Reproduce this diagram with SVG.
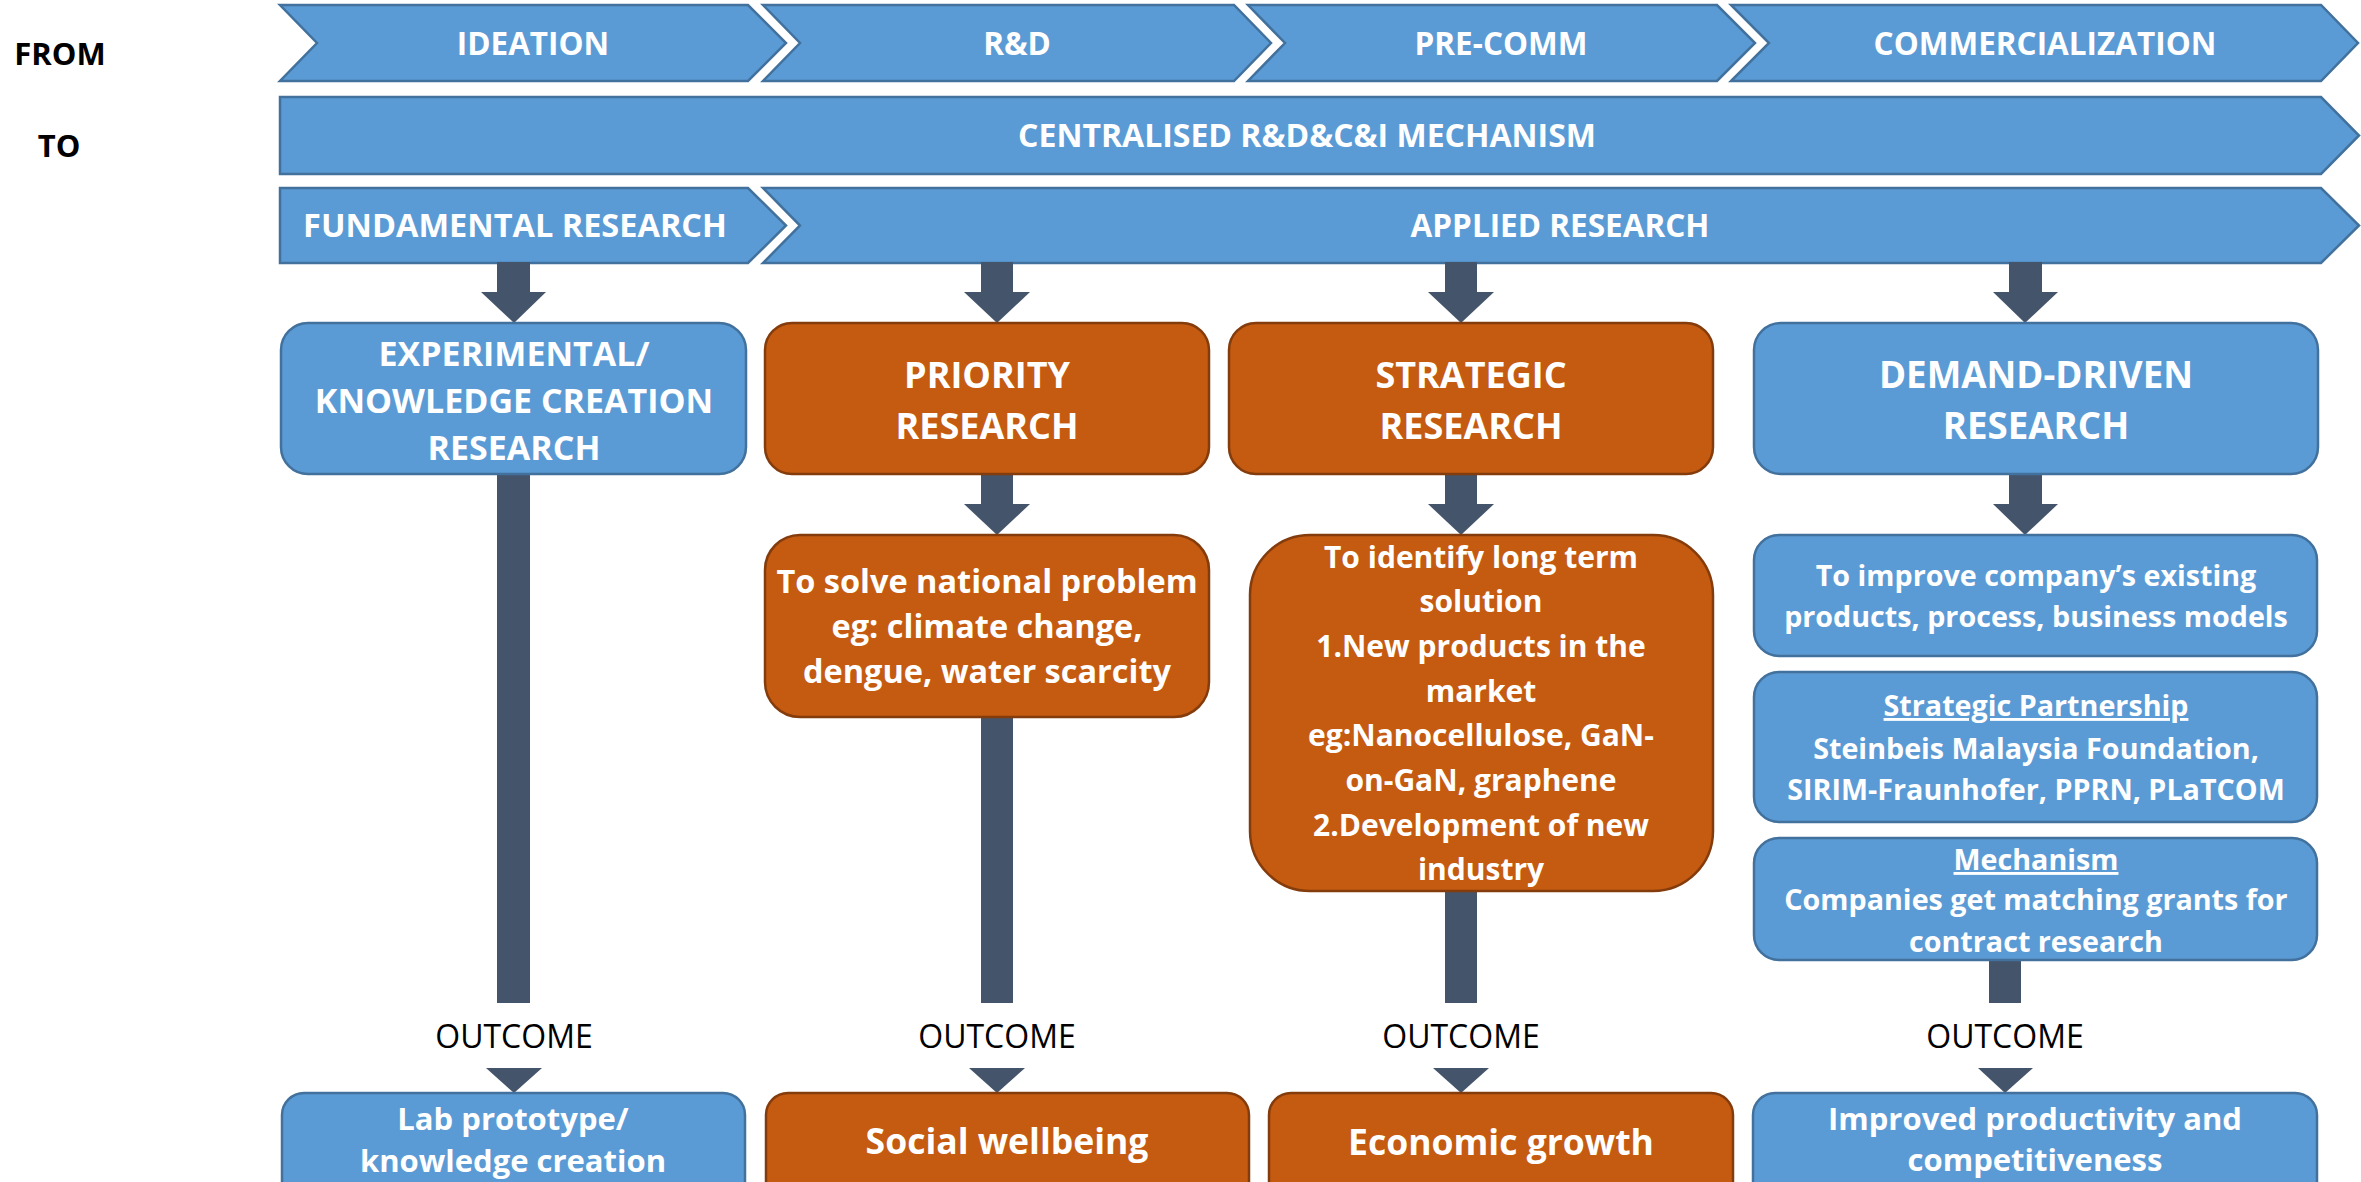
<svg xmlns="http://www.w3.org/2000/svg" width="2361" height="1182" viewBox="0 0 2361 1182">
<style>
text{font-family:"Open Sans","Liberation Sans",sans-serif;text-anchor:middle}
.b{fill:#5B9BD5;stroke:#41719C;stroke-width:2.5}
.o{fill:#C55A11;stroke:#843C0C;stroke-width:2.5}
.w{fill:#FFFFFF;font-weight:bold}
.k{fill:#000000;font-weight:bold;font-size:31px}
.h{font-size:31.5px}
.t36{font-size:36px}
.t34{font-size:34px}
.t32{font-size:32.5px}
.t31{font-size:31px}
.t30{font-size:30px}
.t28{font-size:28.7px}
.t35{font-size:35.5px}
.oc{fill:#000000;font-size:32px}
.ar{fill:#44546A}
.u{text-decoration:underline}
</style>
<rect width="2361" height="1182" fill="#FFFFFF"/>
<g id="labels">
<text class="k" x="60" y="65">FROM</text>
<text class="k" x="59" y="157">TO</text>
</g>
<g id="stage-ideation"><path class="b" d="M280,5 L748,5 L786,43 L748,81 L280,81 L317,43 Z"/><text class="w h" x="533" y="55">IDEATION</text></g>
<g id="stage-rd"><path class="b" d="M763,5 L1234,5 L1271,43 L1234,81 L763,81 L800,43 Z"/><text class="w h" x="1017" y="55">R&amp;D</text></g>
<g id="stage-precomm"><path class="b" d="M1248,5 L1717,5 L1755,43 L1717,81 L1248,81 L1285,43 Z"/><text class="w h" x="1501" y="55">PRE-COMM</text></g>
<g id="stage-comm"><path class="b" d="M1731,5 L2321,5 L2358,43 L2321,81 L1731,81 L1769,43 Z"/><text class="w h" x="2045" y="55">COMMERCIALIZATION</text></g>
<g id="centralised"><path class="b" d="M280,97 L2321,97 L2359,135.5 L2321,174 L280,174 Z"/><text class="w h" x="1307" y="147" style="font-size:32px">CENTRALISED R&amp;D&amp;C&amp;I MECHANISM</text></g>
<g id="fundamental"><path class="b" d="M280,188 L748,188 L786,225.5 L748,263 L280,263 Z"/><text class="w h" x="515" y="237" style="font-size:32.5px">FUNDAMENTAL RESEARCH</text></g>
<g id="applied"><path class="b" d="M763,188 L2321,188 L2359,225.5 L2321,263 L763,263 L800,225.5 Z"/><text class="w h" x="1560" y="237">APPLIED RESEARCH</text></g>

<g id="connectors">
<rect class="ar" x="497" y="262" width="33" height="31"/><polygon class="ar" points="481,292 546,292 514,323"/>
<rect class="ar" x="497" y="474" width="33" height="529"/>
<polygon class="ar" points="486,1068 542,1068 514,1093"/>
<rect class="ar" x="981" y="262" width="32" height="31"/><polygon class="ar" points="964,292 1030,292 997,323"/>
<rect class="ar" x="981" y="474" width="32" height="31"/><polygon class="ar" points="964,504 1030,504 997,535"/>
<rect class="ar" x="981" y="716" width="32" height="287"/>
<polygon class="ar" points="969,1068 1025,1068 997,1093"/>
<rect class="ar" x="1445" y="262" width="32" height="31"/><polygon class="ar" points="1428,292 1494,292 1461,323"/>
<rect class="ar" x="1445" y="474" width="32" height="31"/><polygon class="ar" points="1428,504 1494,504 1461,535"/>
<rect class="ar" x="1445" y="890" width="32" height="113"/>
<polygon class="ar" points="1433,1068 1489,1068 1461,1093"/>
<rect class="ar" x="2009" y="262" width="33" height="31"/><polygon class="ar" points="1993,292 2058,292 2025,323"/>
<rect class="ar" x="2009" y="474" width="33" height="31"/><polygon class="ar" points="1993,504 2058,504 2025,535"/>
<rect class="ar" x="1989" y="959" width="32" height="44"/>
<polygon class="ar" points="1978,1068 2033,1068 2005,1093"/>
</g>

<g id="experimental"><rect class="b" x="281" y="323" width="465" height="151" rx="27"/>
<text class="w t34" x="514" y="366">EXPERIMENTAL/</text>
<text class="w t34" x="514" y="413">KNOWLEDGE CREATION</text>
<text class="w t34" x="514" y="460">RESEARCH</text></g>
<g id="priority"><rect class="o" x="765" y="323" width="444" height="151" rx="27"/>
<text class="w t36" x="987" y="388">PRIORITY</text>
<text class="w t36" x="987" y="439">RESEARCH</text></g>
<g id="strategic"><rect class="o" x="1229" y="323" width="484" height="151" rx="27"/>
<text class="w t36" x="1471" y="388">STRATEGIC</text>
<text class="w t36" x="1471" y="439">RESEARCH</text></g>
<g id="demand"><rect class="b" x="1754" y="323" width="564" height="151" rx="27"/>
<text class="w t36" x="2036" y="388" style="font-size:36.7px">DEMAND-DRIVEN</text>
<text class="w t36" x="2036" y="439" style="font-size:36.7px">RESEARCH</text></g>

<g id="priority-detail"><rect class="o" x="765" y="535" width="444" height="182" rx="35"/>
<text class="w t32" x="987" y="593">To solve national problem</text>
<text class="w t32" x="987" y="638">eg: climate change,</text>
<text class="w t32" x="987" y="683">dengue, water scarcity</text></g>
<g id="strategic-detail"><rect class="o" x="1250" y="535" width="463" height="356" rx="60"/>
<text class="w t30" x="1481" y="568">To identify long term</text>
<text class="w t30" x="1481" y="612">solution</text>
<text class="w t30" x="1481" y="657">1.New products in the</text>
<text class="w t30" x="1481" y="702">market</text>
<text class="w t30" x="1481" y="746">eg:Nanocellulose, GaN-</text>
<text class="w t30" x="1481" y="791">on-GaN, graphene</text>
<text class="w t30" x="1481" y="836">2.Development of new</text>
<text class="w t30" x="1481" y="880">industry</text></g>
<g id="demand-detail"><rect class="b" x="1754" y="535" width="563" height="121" rx="25"/>
<text class="w t28" x="2036" y="586">To improve company’s existing</text>
<text class="w t28" x="2036" y="627">products, process, business models</text></g>
<g id="partnership"><rect class="b" x="1754" y="672" width="563" height="150" rx="25"/>
<text class="w t28 u" x="2036" y="716">Strategic Partnership</text>
<text class="w t28" x="2036" y="759">Steinbeis Malaysia Foundation,</text>
<text class="w t28" x="2036" y="800">SIRIM-Fraunhofer, PPRN, PLaTCOM</text></g>
<g id="mechanism"><rect class="b" x="1754" y="838" width="563" height="122" rx="25"/>
<text class="w t28 u" x="2036" y="870">Mechanism</text>
<text class="w t28" x="2036" y="910">Companies get matching grants for</text>
<text class="w t28" x="2036" y="952">contract research</text></g>

<g id="outcome-labels">
<text class="oc" x="514" y="1048">OUTCOME</text>
<text class="oc" x="997" y="1048">OUTCOME</text>
<text class="oc" x="1461" y="1048">OUTCOME</text>
<text class="oc" x="2005" y="1048">OUTCOME</text>
</g>

<g id="outcome-lab"><rect class="b" x="282" y="1093" width="463" height="120" rx="22"/>
<text class="w t31" x="513" y="1130">Lab prototype/</text>
<text class="w t31" x="513" y="1172">knowledge creation</text></g>
<g id="outcome-social"><rect class="o" x="766" y="1093" width="483" height="120" rx="22"/>
<text class="w t35" x="1007" y="1154">Social wellbeing</text></g>
<g id="outcome-economic"><rect class="o" x="1269" y="1093" width="464" height="120" rx="22"/>
<text class="w t35" x="1501" y="1155">Economic growth</text></g>
<g id="outcome-productivity"><rect class="b" x="1753" y="1093" width="564" height="120" rx="22"/>
<text class="w t31" x="2035" y="1130">Improved productivity and</text>
<text class="w t31" x="2035" y="1171">competitiveness</text></g>
</svg>
